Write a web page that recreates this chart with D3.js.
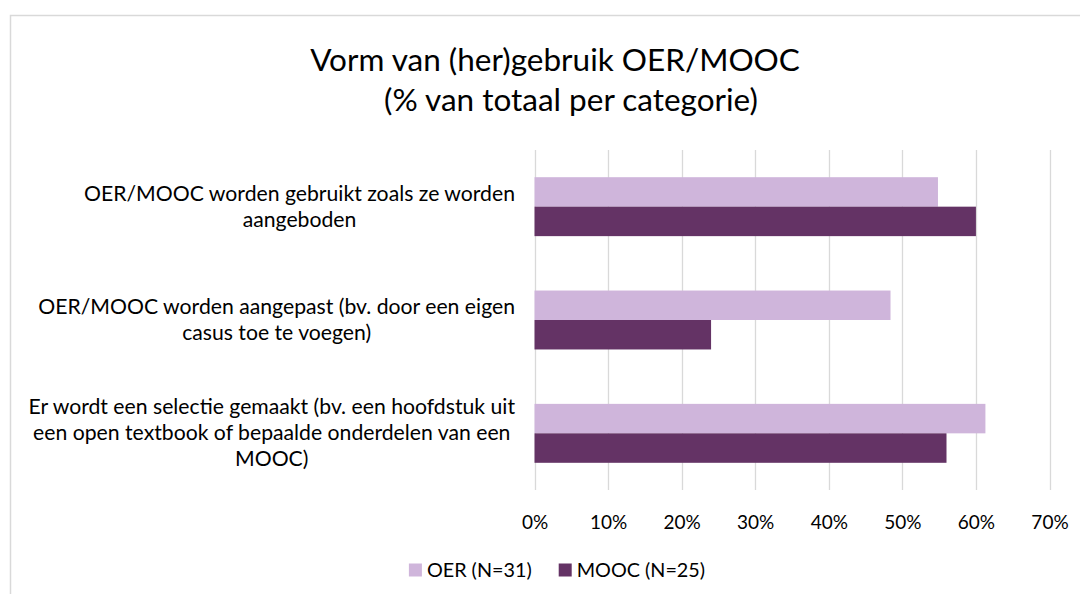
<!DOCTYPE html>
<html>
<head>
<meta charset="utf-8">
<script src="https://cdn.jsdelivr.net/npm/d3@7"></script>
<style>
  html, body { margin: 0; padding: 0; background: #fff; }
  svg { display: block; font-family: Lato, "Open Sans", sans-serif; }
</style>
</head>
<body>
<svg id="chart" width="1080" height="594"></svg>
<script>
// Chart content
const titleLines = ["Vorm van (her)gebruik OER/MOOC", "(% van totaal per categorie)"];
const categories = [
  "OER/MOOC worden gebruikt zoals ze worden\naangeboden",
  "OER/MOOC worden aangepast (bv. door een eigen\ncasus toe te voegen)",
  "Er wordt een selectie gemaakt (bv. een hoofdstuk uit\neen open textbook of bepaalde onderdelen van een\nMOOC)"
];
const seriesNames = ["OER (N=31)", "MOOC (N=25)"];
const oerValues = [54.84, 48.39, 61.29];
const moocValues = [60, 24, 56];
const tickValues = [0, 10, 20, 30, 40, 50, 60, 70];
const tickLabels = ["0%", "10%", "20%", "30%", "40%", "50%", "60%", "70%"];

const colors = ["#cfb5db", "#643365"];
const gridColor = "#d9d9d9";
const textColor = "#000";

const svg = d3.select("#chart");

// chart area border (runs off the right and bottom edges)
svg.append("rect")
  .attr("x", 10.5).attr("y", 15.5)
  .attr("width", 1200).attr("height", 700)
  .attr("fill", "#fff")
  .attr("stroke", gridColor)
  .attr("stroke-width", 1.5);

// title
const titleCenters = [555, 571];
svg.append("g").selectAll("text")
  .data(titleLines)
  .join("text")
  .attr("x", (d, i) => titleCenters[i])
  .attr("y", (d, i) => 71 + i * 40)
  .attr("text-anchor", "middle")
  .attr("font-size", 31.5)
  .attr("fill", textColor)
  .text(d => d);

// scales
const plot = { left: 534.5, right: 1049.5, top: 150, bottom: 490 };
const x = d3.scaleLinear().domain([0, 70]).range([plot.left, plot.right]);
const y = d3.scaleBand().domain(categories).range([plot.top, plot.bottom])
  .paddingInner(0.48).paddingOuter(0.24);
const ySub = d3.scaleBand().domain(seriesNames).range([0, y.bandwidth()]);

// vertical gridlines
svg.append("g").selectAll("line")
  .data(tickValues)
  .join("line")
  .attr("x1", d => Math.round(x(d)) + 0.5)
  .attr("x2", d => Math.round(x(d)) + 0.5)
  .attr("y1", plot.top).attr("y2", plot.bottom)
  .attr("stroke", gridColor)
  .attr("stroke-width", 1.3);

// x axis labels
const xAxis = d3.axisBottom(x)
  .tickValues(tickValues)
  .tickFormat((d, i) => tickLabels[i])
  .tickSize(0)
  .tickPadding(0);
const xg = svg.append("g")
  .attr("transform", `translate(0,${plot.bottom})`)
  .call(xAxis);
xg.select(".domain").remove();
xg.selectAll("text")
  .attr("font-family", "Lato, 'Open Sans', sans-serif")
  .attr("font-size", 19)
  .attr("fill", textColor)
  .attr("dy", 0)
  .attr("y", 39);

// bars
const rows = categories.map((c, i) => ({
  cat: c,
  values: [
    { name: seriesNames[0], v: oerValues[i], color: colors[0] },
    { name: seriesNames[1], v: moocValues[i], color: colors[1] }
  ]
}));

svg.append("g").selectAll("g")
  .data(rows)
  .join("g")
  .attr("transform", d => `translate(0,${y(d.cat)})`)
  .selectAll("rect")
  .data(d => d.values)
  .join("rect")
  .attr("x", x(0))
  .attr("y", d => ySub(d.name))
  .attr("width", d => x(d.v) - x(0))
  .attr("height", ySub.bandwidth())
  .attr("fill", d => d.color);

// category labels: wrapped block right-aligned to the axis, lines centred in the block
const labelRight = 515;
const lineHeight = 26;
const labelG = svg.append("g")
  .attr("font-size", 21.2)
  .attr("fill", textColor);
categories.forEach(cat => {
  const lines = cat.split("\n");
  const g = labelG.append("g");
  const texts = g.selectAll("text")
    .data(lines)
    .join("text")
    .attr("text-anchor", "middle")
    .text(d => d);
  let maxW = 0;
  texts.each(function() { maxW = Math.max(maxW, this.getComputedTextLength()); });
  const cy = y(cat) + y.bandwidth() / 2;
  const firstBaseline = cy - (lines.length - 1) * lineHeight / 2 + 7;
  texts
    .attr("x", labelRight - maxW / 2)
    .attr("y", (d, i) => firstBaseline + i * lineHeight);
});

// legend
const legendG = svg.append("g").attr("font-size", 19.8).attr("fill", textColor);
const sq = 13, gapText = 5, gapItem = 27;
const items = legendG.selectAll("g")
  .data(seriesNames)
  .join("g");
items.append("rect")
  .attr("width", sq).attr("height", sq)
  .attr("y", -sq / 2)
  .attr("fill", (d, i) => colors[i]);
items.append("text")
  .attr("x", sq + gapText)
  .attr("dy", "0.35em")
  .text(d => d);
const widths = [];
items.each(function() {
  const w = sq + gapText + d3.select(this).select("text").node().getComputedTextLength();
  widths.push(w);
});
const total = d3.sum(widths) + gapItem * (widths.length - 1);
const legendCenter = 557;
let cx = legendCenter - total / 2;
items.attr("transform", (d, i) => {
  const t = `translate(${cx},570)`;
  cx += widths[i] + gapItem;
  return t;
});
</script>
</body>
</html>
